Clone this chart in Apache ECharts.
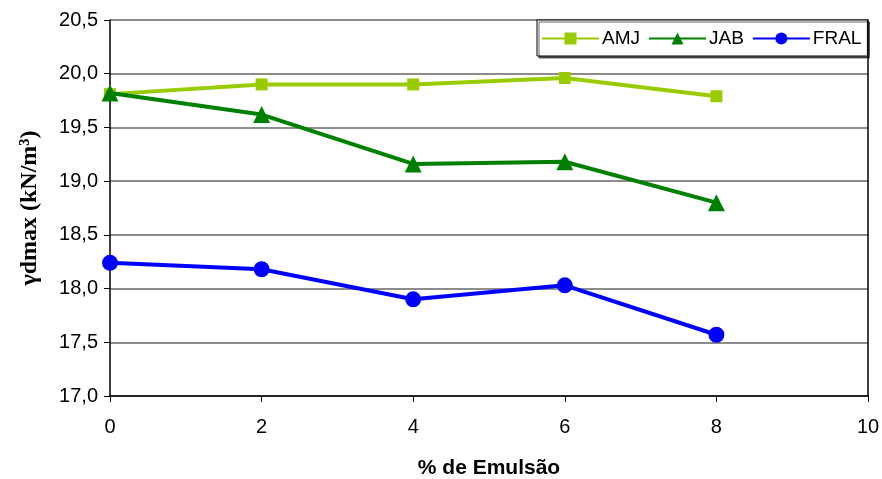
<!DOCTYPE html>
<html>
<head>
<meta charset="utf-8">
<script src="https://cdn.jsdelivr.net/npm/echarts@6/dist/echarts.min.js"></script>
<style>html,body{margin:0;padding:0;background:#fff}#c{width:882px;height:479px}</style>
</head>
<body>
<div id="c"></div>
<script>
const xValues = [0, 2, 4, 6, 8];
const amj = [19.81, 19.90, 19.90, 19.96, 19.79];
const jab = [19.82, 19.62, 19.16, 19.18, 18.80];
const fral = [18.24, 18.18, 17.90, 18.03, 17.57];
const seriesNames = ['AMJ', 'JAB', 'FRAL'];
const xTitle = '% de Emulsão';
const yTitle = 'γdmax (kN/m³)';

const pair = (arr) => xValues.map((x, i) => [x, arr[i]]);
const chart = echarts.init(document.getElementById('c'), null, {renderer: 'canvas'});
const labelFont = {fontFamily: 'Liberation Sans, Arial, sans-serif', fontSize: 20, color: '#000'};
chart.setOption({
  animation: false,
  backgroundColor: '#fff',
  grid: {left: 110, right: 14, top: 20, bottom: 83, outerBoundsMode: 'none', containLabel: false},
  legend: {
    left: 537, top: 20,
    orient: 'horizontal',
    backgroundColor: '#fff',
    borderColor: '#000', borderWidth: 1,
    padding: [9, 6, 8, 4],
    itemWidth: 57, itemHeight: 15, itemGap: 8,
    shadowColor: 'rgba(0,0,0,0.6)', shadowOffsetX: 2, shadowOffsetY: 2, shadowBlur: 0,
    textStyle: {fontFamily: 'Liberation Sans, Arial, sans-serif', fontSize: 19, color: '#000', padding: [0, 0, 0, -2]},
    data: seriesNames
  },
  xAxis: {
    type: 'value', min: 0, max: 10, interval: 2,
    name: xTitle, nameLocation: 'middle', nameGap: 62,
    nameTextStyle: {fontFamily: 'Liberation Sans Narrow, Liberation Sans, Arial, sans-serif', fontWeight: 'bold', fontSize: 21, color: '#000'},
    axisLine: {show: true, lineStyle: {color: '#000', width: 1.5}},
    axisTick: {show: true, inside: false, length: 6, lineStyle: {color: '#000'}},
    axisLabel: Object.assign({margin: 21}, labelFont),
    splitLine: {show: false}
  },
  yAxis: [{
    type: 'value', min: 17, max: 20.5, interval: 0.5,
    name: yTitle, nameLocation: 'middle', nameGap: 68, nameRotate: 90,
    nameTextStyle: {fontFamily: 'Liberation Serif, Times New Roman, serif', fontWeight: 'bold', fontSize: 24, color: '#000'},
    axisLine: {show: true, lineStyle: {color: '#000', width: 1.5}},
    axisTick: {show: true, inside: false, length: 6, lineStyle: {color: '#000'}},
    axisLabel: Object.assign({margin: 12, formatter: v => v.toFixed(1).replace('.', ',')}, labelFont),
    splitLine: {show: true, lineStyle: {color: '#666', width: 1.5}}
  }, {
    type: 'value', min: 17, max: 20.5, position: 'right',
    axisLine: {show: true, lineStyle: {color: '#000', width: 1.5}},
    axisTick: {show: false}, axisLabel: {show: false}, splitLine: {show: false}
  }],
  series: [
    {name: 'AMJ', type: 'line', data: pair(amj), symbol: 'rect', symbolSize: 12,
     lineStyle: {color: '#99CC00', width: 4}, itemStyle: {color: '#99CC00'}, z: 2},
    {name: 'JAB', type: 'line', data: pair(jab), symbol: 'triangle', symbolSize: 17,
     lineStyle: {color: '#008000', width: 4}, itemStyle: {color: '#008000'}, z: 3},
    {name: 'FRAL', type: 'line', data: pair(fral), symbol: 'circle', symbolSize: 16,
     lineStyle: {color: '#0000FF', width: 4}, itemStyle: {color: '#0000FF'}, z: 4}
  ]
});
</script>
</body>
</html>
